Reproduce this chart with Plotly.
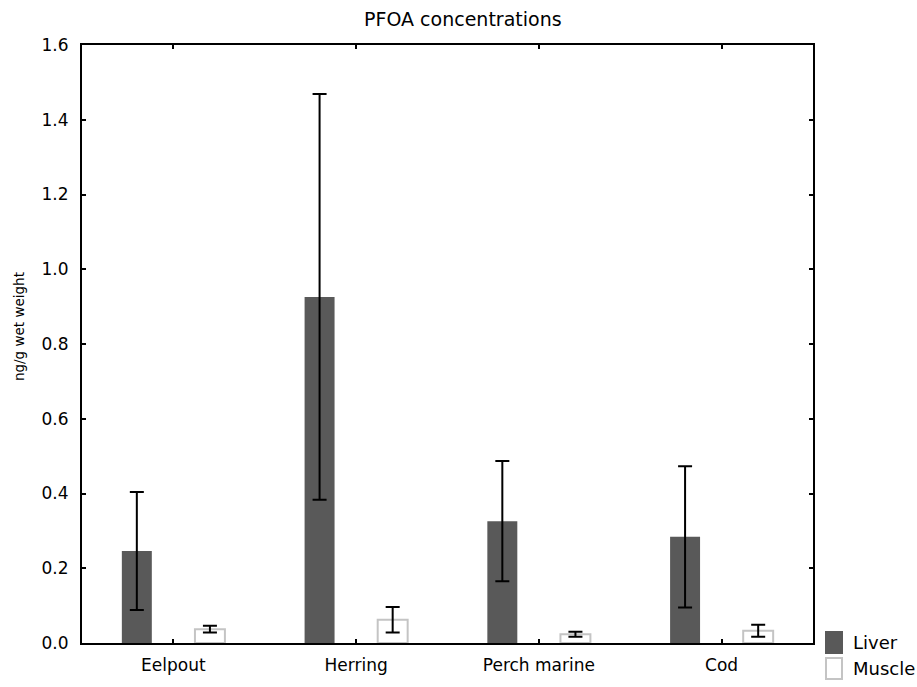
import plotly.graph_objects as go

# PFOA concentrations (ng/g wet weight), mean and error per species and tissue
species = ["Eelpout", "Herring", "Perch marine", "Cod"]
liver_mean = [0.246, 0.926, 0.326, 0.284]
liver_err = [0.158, 0.543, 0.161, 0.189]
muscle_mean = [0.037, 0.062, 0.0235, 0.033]
muscle_err = [0.009, 0.034, 0.0065, 0.016]

y_ticks = [0.0, 0.2, 0.4, 0.6, 0.8, 1.0, 1.2, 1.4, 1.6]
y_tick_text = ["0.0", "0.2", "0.4", "0.6", "0.8", "1.0", "1.2", "1.4", "1.6"]

FONT = "DejaVu Sans, Arial, sans-serif"
LIVER_COLOR = "#595959"
MUSCLE_EDGE = "#c4c4c4"

W, H = 917, 687
ML, MR, MT, MB = 82, 104, 45, 42

err_style = dict(type="data", visible=True, color="black", thickness=2, width=7)

fig = go.Figure()
fig.add_trace(go.Bar(
    name="Liver", x=species, y=liver_mean,
    marker=dict(color=LIVER_COLOR, line=dict(width=0)),
    error_y=dict(array=liver_err, **err_style),
    showlegend=False,
))
fig.add_trace(go.Bar(
    name="Muscle", x=species, y=muscle_mean,
    marker=dict(color="white", line=dict(color=MUSCLE_EDGE, width=2)),
    error_y=dict(array=muscle_err, **err_style),
    showlegend=False,
))

axis_common = dict(
    showline=True, linecolor="black", linewidth=2, mirror="ticks",
    ticks="inside", ticklen=4, tickwidth=2, tickcolor="black",
    showgrid=False, zeroline=False,
    tickfont=dict(family=FONT, size=17, color="black"),
)

fig.update_layout(
    width=W, height=H,
    margin=dict(l=ML, r=MR, t=MT, b=MB, pad=0),
    paper_bgcolor="white", plot_bgcolor="white",
    barmode="group", bargap=0.2, bargroupgap=0.59,
    font=dict(family=FONT, size=17, color="black"),
    title=dict(text="PFOA concentrations", x=0.521, xref="paper",
               xanchor="center", y=1 - 19 / H, yref="container", yanchor="middle",
               font=dict(family=FONT, size=19, color="black")),
    xaxis=dict(range=[-0.5, 3.5], ticklabelstandoff=6, **axis_common),
    yaxis=dict(range=[0, 1.6], tickvals=y_ticks, ticktext=y_tick_text,
               ticklabelstandoff=8, **axis_common),
)

# y-axis title
fig.add_annotation(text="ng/g wet weight", xref="paper", yref="paper",
                   x=(19 - ML) / (W - ML - MR), y=(H - MB - 328) / (H - MT - MB),
                   textangle=-90, showarrow=False, xanchor="center", yanchor="middle",
                   font=dict(family=FONT, size=13.5, color="black"))

# legend: swatch boxes with labels, lower right outside the plot area
pw, ph = W - ML - MR, H - MT - MB
def px_x(v):
    return (v - ML) / pw
def px_y(v):
    return (H - MB - v) / ph

legend_items = [("Liver", LIVER_COLOR, LIVER_COLOR, 633), ("Muscle", "white", MUSCLE_EDGE, 659)]
for label, fill, edge, top in legend_items:
    fig.add_shape(type="rect", xref="paper", yref="paper",
                  x0=px_x(826), x1=px_x(842), y0=px_y(top + 22), y1=px_y(top + 1),
                  fillcolor=fill, line=dict(color=edge, width=2), layer="above")
    fig.add_annotation(text=label, xref="paper", yref="paper",
                       x=px_x(851), y=px_y(top + 11.5), xanchor="left", yanchor="middle",
                       showarrow=False, font=dict(family=FONT, size=18, color="black"))

fig.write_html("out.html")
